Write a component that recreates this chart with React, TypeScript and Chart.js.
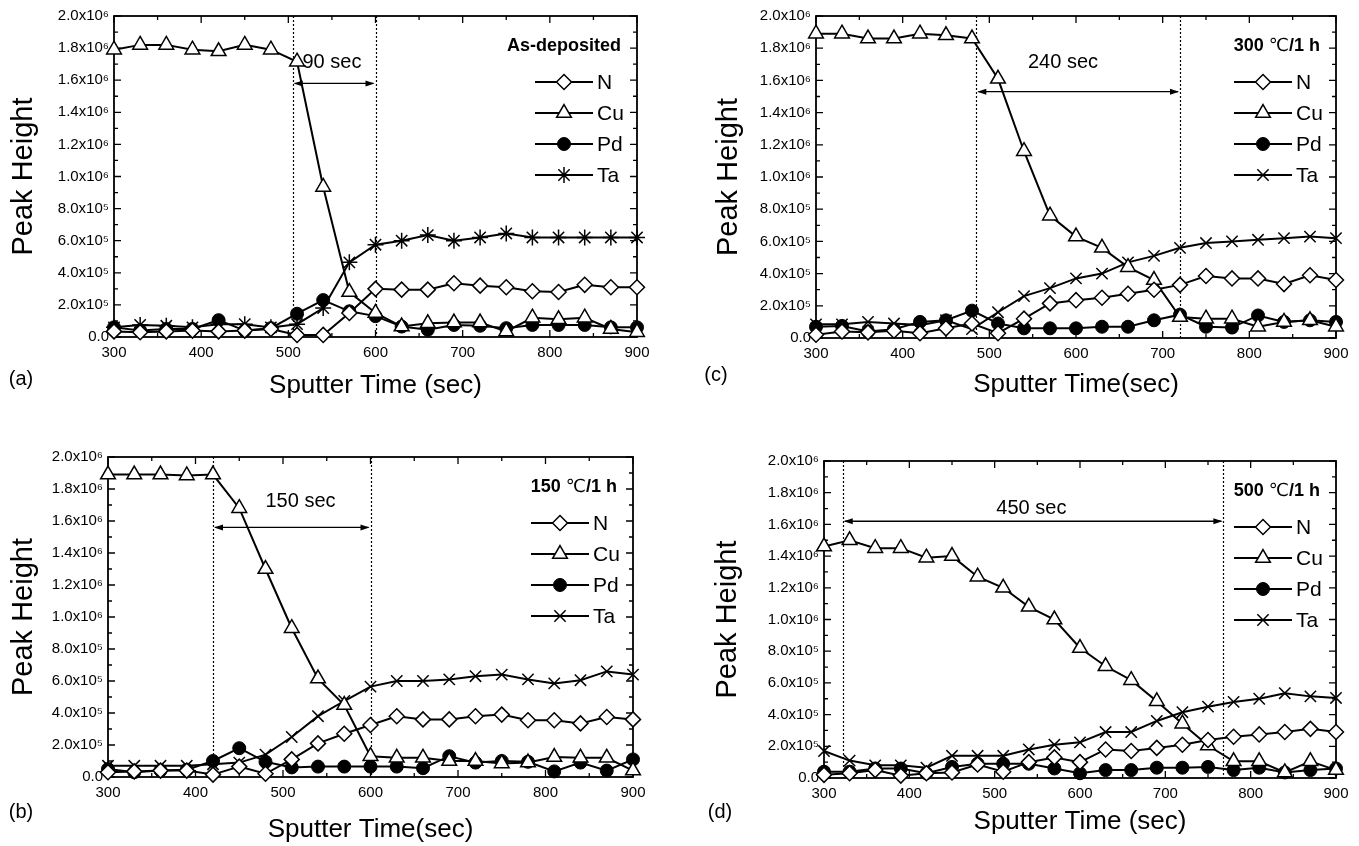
import React, { useEffect, useRef } from "react";
import { Chart, registerables } from "chart.js";
import { drawPoint } from "chart.js/helpers";

Chart.register(...registerables);

// ---------- data (peak height in units of 10^6) ----------
const times = [300, 330, 360, 390, 420, 450, 480, 510, 540, 570, 600, 630, 660, 690, 720, 750, 780, 810, 840, 870, 900];

const xTickLabels = ["300", "400", "500", "600", "700", "800", "900"];
const yTickLabels = ["0.0", "2.0x10⁵", "4.0x10⁵", "6.0x10⁵", "8.0x10⁵", "1.0x10⁶", "1.2x10⁶", "1.4x10⁶", "1.6x10⁶", "1.8x10⁶", "2.0x10⁶"];
const seriesNames = ["N", "Cu", "Pd", "Ta"];

// (a) As-deposited
const aN = [0.035, 0.03, 0.035, 0.04, 0.035, 0.04, 0.05, 0.013, 0.013, 0.15, 0.30, 0.295, 0.295, 0.335, 0.32, 0.31, 0.285, 0.28, 0.325, 0.31, 0.31];
const aCu = [1.79, 1.82, 1.82, 1.79, 1.78, 1.82, 1.79, 1.715, 0.935, 0.28, 0.15, 0.065, 0.085, 0.09, 0.09, 0.035, 0.12, 0.11, 0.12, 0.05, 0.03];
const aPd = [0.06, 0.04, 0.05, 0.05, 0.105, 0.04, 0.055, 0.145, 0.23, 0.16, 0.13, 0.065, 0.045, 0.075, 0.07, 0.055, 0.075, 0.075, 0.075, 0.06, 0.06];
const aTa = [0.06, 0.075, 0.07, 0.06, 0.08, 0.08, 0.06, 0.08, 0.18, 0.465, 0.575, 0.60, 0.635, 0.60, 0.62, 0.645, 0.62, 0.62, 0.62, 0.62, 0.62];

// (b) 150 C / 1 h
const bN = [0.03, 0.035, 0.04, 0.04, 0.015, 0.065, 0.02, 0.11, 0.21, 0.27, 0.325, 0.38, 0.36, 0.36, 0.38, 0.39, 0.355, 0.355, 0.335, 0.375, 0.36];
const bCu = [1.89, 1.89, 1.89, 1.885, 1.89, 1.68, 1.30, 0.93, 0.615, 0.45, 0.13, 0.12, 0.12, 0.10, 0.10, 0.085, 0.09, 0.125, 0.12, 0.12, 0.04];
const bPd = [0.05, 0.03, 0.04, 0.045, 0.10, 0.18, 0.095, 0.06, 0.065, 0.065, 0.065, 0.065, 0.055, 0.13, 0.09, 0.10, 0.095, 0.035, 0.09, 0.04, 0.11];
const bTa = [0.07, 0.07, 0.07, 0.07, 0.08, 0.09, 0.14, 0.25, 0.38, 0.475, 0.565, 0.60, 0.60, 0.61, 0.63, 0.64, 0.61, 0.585, 0.605, 0.66, 0.64];

// (c) 300 C / 1 h
const cN = [0.02, 0.04, 0.035, 0.045, 0.03, 0.06, 0.09, 0.03, 0.12, 0.215, 0.235, 0.25, 0.275, 0.30, 0.33, 0.385, 0.37, 0.37, 0.335, 0.39, 0.36];
const cCu = [1.89, 1.89, 1.86, 1.86, 1.89, 1.88, 1.86, 1.61, 1.16, 0.76, 0.63, 0.56, 0.44, 0.36, 0.13, 0.12, 0.12, 0.07, 0.10, 0.11, 0.07];
const cPd = [0.07, 0.075, 0.04, 0.055, 0.10, 0.11, 0.17, 0.09, 0.06, 0.06, 0.06, 0.07, 0.07, 0.11, 0.145, 0.07, 0.065, 0.14, 0.10, 0.11, 0.10];
const cTa = [0.085, 0.085, 0.10, 0.09, 0.08, 0.11, 0.055, 0.16, 0.26, 0.31, 0.37, 0.40, 0.47, 0.51, 0.56, 0.59, 0.60, 0.61, 0.62, 0.63, 0.62];

// (d) 500 C / 1 h
const dN = [0.02, 0.03, 0.05, 0.015, 0.03, 0.035, 0.085, 0.04, 0.10, 0.13, 0.10, 0.18, 0.17, 0.19, 0.21, 0.24, 0.26, 0.275, 0.29, 0.31, 0.29];
const dCu = [1.46, 1.50, 1.45, 1.45, 1.39, 1.40, 1.27, 1.20, 1.08, 1.00, 0.82, 0.705, 0.617, 0.484, 0.343, 0.205, 0.105, 0.105, 0.035, 0.105, 0.05];
const dPd = [0.04, 0.04, 0.06, 0.06, 0.03, 0.07, 0.09, 0.09, 0.09, 0.06, 0.03, 0.05, 0.05, 0.065, 0.065, 0.07, 0.05, 0.065, 0.035, 0.05, 0.06];
const dTa = [0.17, 0.11, 0.08, 0.08, 0.065, 0.14, 0.14, 0.14, 0.18, 0.21, 0.225, 0.29, 0.29, 0.36, 0.415, 0.45, 0.48, 0.50, 0.535, 0.515, 0.505];

// dotted marker lines (sec)
const aMarks = [505, 600];
const bMarks = [420, 600];
const cMarks = [485, 720];
const dMarks = [322, 768];

// ---------- styling / layout ----------
const FONT = "'Liberation Sans', Arial, 'DejaVu Sans', sans-serif";

type Part = { t: string; b: boolean };

const panels: any[] = [
  {
    key: "a", cx: 0, cy: 0, w: 680, h: 420, L: 114, T: 16, R: 637, B: 337,
    series: [aN, aCu, aPd, aTa], taStyle: "star", marks: aMarks,
    arrowY: 1.58, note: "90 sec", noteX: 550, noteY: 1.71,
    title: [{ t: "As-deposited", b: true }] as Part[],
    yTitleX: 24, xTitle: "Sputter Time (sec)", xTitleY: 386, label: "(a)", labelX: 21, labelY: 379,
  },
  {
    key: "c", cx: 700, cy: 0, w: 659, h: 420, L: 816, T: 16, R: 1336, B: 338,
    series: [cN, cCu, cPd, cTa], taStyle: "crossRot", marks: cMarks,
    arrowY: 1.53, note: "240 sec", noteX: 585, noteY: 1.71,
    title: [{ t: "300 ", b: true }, { t: "℃", b: false }, { t: "/1 h", b: true }] as Part[],
    yTitleX: 729, xTitle: "Sputter Time(sec)", xTitleY: 385, label: "(c)", labelX: 716, labelY: 375,
  },
  {
    key: "b", cx: 0, cy: 430, w: 680, h: 416, L: 108, T: 457, R: 633, B: 777,
    series: [bN, bCu, bPd, bTa], taStyle: "crossRot", marks: bMarks,
    arrowY: 1.56, note: "150 sec", noteX: 520, noteY: 1.72,
    title: [{ t: "150 ", b: true }, { t: "℃", b: false }, { t: "/1 h", b: true }] as Part[],
    yTitleX: 24, xTitle: "Sputter Time(sec)", xTitleY: 830, label: "(b)", labelX: 21, labelY: 812,
  },
  {
    key: "d", cx: 700, cy: 430, w: 659, h: 416, L: 824, T: 461, R: 1336, B: 778,
    series: [dN, dCu, dPd, dTa], taStyle: "crossRot", marks: dMarks,
    arrowY: 1.62, note: "450 sec", noteX: 543, noteY: 1.70,
    title: [{ t: "500 ", b: true }, { t: "℃", b: false }, { t: "/1 h", b: true }] as Part[],
    yTitleX: 728, xTitle: "Sputter Time (sec)", xTitleY: 822, label: "(d)", labelX: 720, labelY: 812,
  },
];

function markerStyles(taStyle: string) {
  return [
    { pointStyle: "rectRot", radius: 7.5, fill: "#ffffff", bw: 1.5 },
    { pointStyle: "triangle", radius: 8.5, fill: "#ffffff", bw: 1.5 },
    { pointStyle: "circle", radius: 6.5, fill: "#000000", bw: 1 },
    { pointStyle: taStyle, radius: 8, fill: "#ffffff", bw: 1.5 },
  ];
}

function arrowHead(ctx: CanvasRenderingContext2D, x: number, y: number, dir: number) {
  ctx.beginPath();
  ctx.moveTo(x, y);
  ctx.lineTo(x - dir * 9, y - 3);
  ctx.lineTo(x - dir * 9, y + 3);
  ctx.closePath();
  ctx.fill();
}

function makeDecor(p: any) {
  const styles = markerStyles(p.taStyle);
  return {
    id: "decor_" + p.key,
    beforeDatasetsDraw(chart: any) {
      const { ctx, chartArea: ca, scales } = chart;
      const x = scales.x;
      const y = scales.y;
      ctx.save();
      ctx.strokeStyle = "#000";
      ctx.fillStyle = "#000";
      ctx.lineWidth = 1.8;
      ctx.strokeRect(ca.left, ca.top, ca.right - ca.left, ca.bottom - ca.top);
      ctx.lineWidth = 1.3;
      // x ticks (top & bottom, inward)
      for (let k = 0; k <= 12; k++) {
        const px = x.getPixelForValue(300 + k * 50);
        const len = k % 2 === 0 ? 7 : 4;
        ctx.beginPath();
        ctx.moveTo(px, ca.bottom);
        ctx.lineTo(px, ca.bottom - len);
        ctx.moveTo(px, ca.top);
        ctx.lineTo(px, ca.top + len);
        ctx.stroke();
      }
      // y ticks (left & right, inward)
      for (let k = 0; k <= 20; k++) {
        const py = y.getPixelForValue(k * 0.1);
        const len = k % 2 === 0 ? 7 : 4;
        ctx.beginPath();
        ctx.moveTo(ca.left, py);
        ctx.lineTo(ca.left + len, py);
        ctx.moveTo(ca.right, py);
        ctx.lineTo(ca.right - len, py);
        ctx.stroke();
      }
      // dotted vertical lines
      ctx.lineWidth = 1.2;
      ctx.setLineDash([2, 2]);
      for (const m of p.marks) {
        const px = Math.round(x.getPixelForValue(m)) + 0.5;
        ctx.beginPath();
        ctx.moveTo(px, ca.top);
        ctx.lineTo(px, ca.bottom);
        ctx.stroke();
      }
      ctx.setLineDash([]);
      // double arrow
      const x1 = x.getPixelForValue(p.marks[0]);
      const x2 = x.getPixelForValue(p.marks[1]);
      const ay = y.getPixelForValue(p.arrowY);
      ctx.lineWidth = 1.4;
      ctx.beginPath();
      ctx.moveTo(x1 + 2, ay);
      ctx.lineTo(x2 - 2, ay);
      ctx.stroke();
      arrowHead(ctx, x1 + 1, ay, -1);
      arrowHead(ctx, x2 - 1, ay, 1);
      // interval text
      ctx.font = `20px ${FONT}`;
      ctx.textAlign = "center";
      ctx.textBaseline = "middle";
      ctx.fillText(p.note, x.getPixelForValue(p.noteX), y.getPixelForValue(p.noteY));
      ctx.restore();
    },
    afterDatasetsDraw(chart: any) {
      const { ctx, chartArea: ca } = chart;
      ctx.save();
      // legend title (right aligned)
      const titleRight = ca.right - 16;
      const titleY = ca.top + 30;
      let total = 0;
      const widths: number[] = [];
      for (const part of p.title as Part[]) {
        ctx.font = `${part.b ? "bold " : ""}18px ${FONT}`;
        const wd = ctx.measureText(part.t).width;
        widths.push(wd);
        total += wd;
      }
      let tx = titleRight - total;
      ctx.fillStyle = "#000";
      ctx.textBaseline = "middle";
      ctx.textAlign = "left";
      (p.title as Part[]).forEach((part, i) => {
        ctx.font = `${part.b ? "bold " : ""}18px ${FONT}`;
        ctx.fillText(part.t, tx, titleY);
        tx += widths[i];
      });
      // legend entries
      seriesNames.forEach((name, i) => {
        const ly = ca.top + 66 + i * 31;
        const l0 = ca.right - 102;
        const l1 = ca.right - 44;
        ctx.strokeStyle = "#000";
        ctx.lineWidth = 2;
        ctx.beginPath();
        ctx.moveTo(l0, ly);
        ctx.lineTo(l1, ly);
        ctx.stroke();
        const st = styles[i];
        ctx.fillStyle = st.fill;
        ctx.strokeStyle = "#000";
        ctx.lineWidth = st.bw;
        drawPoint(ctx, { pointStyle: st.pointStyle as any, radius: st.radius, rotation: 0, borderWidth: st.bw } as any, (l0 + l1) / 2, ly);
        ctx.fillStyle = "#000";
        ctx.font = `21px ${FONT}`;
        ctx.textAlign = "left";
        ctx.fillText(name, ca.right - 40, ly + 1);
      });
      ctx.restore();
    },
    afterDraw(chart: any) {
      const { ctx, chartArea: ca } = chart;
      ctx.save();
      ctx.fillStyle = "#000";
      ctx.textAlign = "center";
      ctx.textBaseline = "middle";
      // x title
      ctx.font = `26px ${FONT}`;
      ctx.fillText(p.xTitle, (ca.left + ca.right) / 2, p.xTitleY - p.cy);
      // panel label
      ctx.font = `20px ${FONT}`;
      ctx.fillText(p.label, p.labelX - p.cx, p.labelY - p.cy);
      // y title
      ctx.translate(p.yTitleX - p.cx, (ca.top + ca.bottom) / 2);
      ctx.rotate(-Math.PI / 2);
      ctx.font = `29px ${FONT}`;
      ctx.fillText("Peak Height", 0, 0);
      ctx.restore();
    },
  };
}

function buildConfig(p: any): any {
  const styles = markerStyles(p.taStyle);
  const datasets = seriesNames.map((name, i) => ({
    label: name,
    data: times.map((t, j) => ({ x: t, y: p.series[i][j] })),
    borderColor: "#000",
    borderWidth: 2,
    pointStyle: styles[i].pointStyle,
    pointRadius: styles[i].radius,
    pointBackgroundColor: styles[i].fill,
    pointBorderColor: "#000",
    pointBorderWidth: styles[i].bw,
    tension: 0,
    fill: false,
    clip: false,
  }));
  return {
    type: "line",
    data: { datasets },
    plugins: [makeDecor(p)],
    options: {
      animation: false,
      responsive: false,
      events: [],
      layout: {
        padding: { left: 0, top: p.T - p.cy, right: p.cx + p.w - p.R, bottom: 0 },
      },
      plugins: { legend: { display: false }, tooltip: { enabled: false } },
      scales: {
        x: {
          type: "linear",
          min: 300,
          max: 900,
          grid: { display: false, drawTicks: false },
          border: { display: false },
          ticks: {
            stepSize: 100,
            maxRotation: 0,
            autoSkip: false,
            padding: 7,
            color: "#000",
            font: { family: FONT, size: 15 },
            callback: (_v: any, i: number) => xTickLabels[i],
          },
          afterFit: (s: any) => { s.height = p.cy + p.h - p.B; },
        },
        y: {
          type: "linear",
          min: 0,
          max: 2.0,
          grid: { display: false, drawTicks: false },
          border: { display: false },
          ticks: {
            stepSize: 0.2,
            autoSkip: false,
            padding: 5,
            color: "#000",
            font: { family: FONT, size: 15 },
            callback: (_v: any, i: number) => yTickLabels[i],
          },
          afterFit: (s: any) => { s.width = p.L - p.cx; },
        },
      },
    },
  };
}

function Panel({ p }: { p: any }) {
  const ref = useRef<HTMLCanvasElement>(null);
  useEffect(() => {
    const chart = new Chart(ref.current as HTMLCanvasElement, buildConfig(p));
    return () => chart.destroy();
  }, [p]);
  return (
    <canvas
      ref={ref}
      width={p.w}
      height={p.h}
      style={{ position: "absolute", left: p.cx, top: p.cy, width: p.w, height: p.h }}
    />
  );
}

export default function App() {
  return (
    <div style={{ position: "absolute", left: 0, top: 0, width: 1359, height: 846, background: "#fff", overflow: "hidden" }}>
      {panels.map((p) => (
        <Panel key={p.key} p={p} />
      ))}
    </div>
  );
}
